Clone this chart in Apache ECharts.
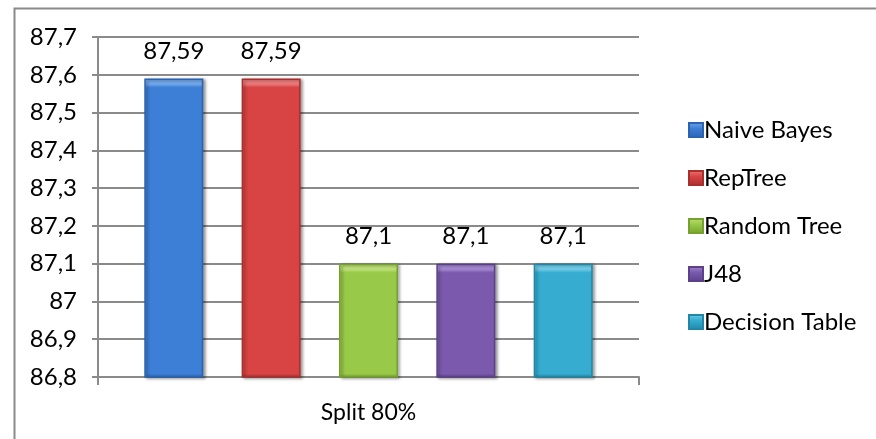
<!DOCTYPE html>
<html>
<head>
<meta charset="utf-8">
<script src="https://cdn.jsdelivr.net/npm/echarts@6/dist/echarts.min.js"></script>
<style>
  html, body { margin: 0; padding: 0; background: #fff; }
  #chart { width: 876px; height: 439px; }
</style>
</head>
<body>
<div id="chart"></div>
<script>
// Accuracy per classifier for the 80% split
const categories = ['Split 80%'];
const seriesNames = ['Naive Bayes', 'RepTree', 'Random Tree', 'J48', 'Decision Table'];
const seriesValues = [87.59, 87.59, 87.1, 87.1, 87.1];
const yMin = 86.8, yMax = 87.7, yStep = 0.1;

// base / light / dark tones for the bevelled bars
const palette = [
  ['#3d7fd6', '#72a8ea', '#2a63b0'],
  ['#d84343', '#ec7a7a', '#a92f2f'],
  ['#98c948', '#bde07a', '#76a12f'],
  ['#7b5aae', '#a488d2', '#5c4189'],
  ['#35acd0', '#72cce8', '#2287a6']
];

const FONT = 'Lato';
const PLOT_H = 340;     // plot height in px, used to size the top bevel
const BEVEL = 9;        // bevel depth in px
const fmt = v => String(parseFloat(Number(v).toFixed(2))).replace('.', ',');

// vertical fill: light bevel band on top, body, slightly darker foot
function barFill(c, value) {
  const h = (value - yMin) / (yMax - yMin) * PLOT_H;
  const t = Math.min(0.3, BEVEL / h);
  const b = Math.max(0.7, 1 - 4 / h);
  return new echarts.graphic.LinearGradient(0, 0, 0, 1, [
    { offset: 0, color: c[1] },
    { offset: t * 0.6, color: c[1] },
    { offset: t, color: c[0] },
    { offset: b, color: c[0] },
    { offset: 1, color: c[2] }
  ]);
}

function legendFill(c) {
  return new echarts.graphic.LinearGradient(0, 0, 0, 1, [
    { offset: 0, color: c[1] },
    { offset: 0.4, color: c[0] },
    { offset: 1, color: c[2] }
  ]);
}

const series = seriesNames.map((name, i) => ({
  name,
  type: 'bar',
  data: [seriesValues[i]],
  barWidth: 59,
  barGap: '65%',
  itemStyle: {
    color: barFill(palette[i], seriesValues[i]),
    borderColor: palette[i][2],
    borderWidth: 1.5,
    shadowColor: 'rgba(0,0,0,0.35)',
    shadowBlur: 3,
    shadowOffsetX: 2,
    shadowOffsetY: 1
  },
  label: {
    show: true,
    position: 'top',
    distance: 15,
    formatter: p => fmt(p.value),
    fontFamily: FONT,
    fontSize: 24,
    color: '#000'
  }
}));

const chart = echarts.init(document.getElementById('chart'), null, { renderer: 'canvas' });
chart.setOption({
  animation: false,
  backgroundColor: '#fff',
  color: palette.map(c => c[0]),
  graphic: [{
    type: 'rect',
    left: 12, top: 6,
    shape: { width: 900, height: 500 },
    style: { fill: 'none', stroke: '#8a8a8a', lineWidth: 2 },
    silent: true
  }],
  grid: { left: 98, right: 237, top: 37, bottom: 62 },
  legend: {
    orient: 'vertical',
    left: 683,
    top: 113,
    itemWidth: 14,
    itemHeight: 14,
    itemGap: 24,
    icon: 'rect',
    textStyle: { fontFamily: FONT, fontSize: 24, color: '#000', padding: [0, 0, 0, -4] },
    data: seriesNames.map((n, i) => ({ name: n, itemStyle: { color: legendFill(palette[i]) } }))
  },
  xAxis: {
    type: 'category',
    data: categories,
    axisLine: { show: true, lineStyle: { color: '#8a8a8a', width: 2 } },
    axisTick: { show: true, length: 8, lineStyle: { color: '#8a8a8a', width: 2 } },
    axisLabel: { fontFamily: FONT, fontSize: 23, color: '#000', margin: 24 }
  },
  yAxis: {
    type: 'value',
    min: yMin,
    max: yMax,
    interval: yStep,
    axisLine: { show: true, lineStyle: { color: '#8a8a8a', width: 2 } },
    axisTick: { show: true, length: 6, lineStyle: { color: '#8a8a8a', width: 2 } },
    axisLabel: { fontFamily: FONT, fontSize: 24, color: '#000', margin: 21, formatter: v => fmt(v) },
    splitLine: { show: true, lineStyle: { color: '#8a8a8a', width: 2 } }
  },
  series
});
</script>
</body>
</html>
